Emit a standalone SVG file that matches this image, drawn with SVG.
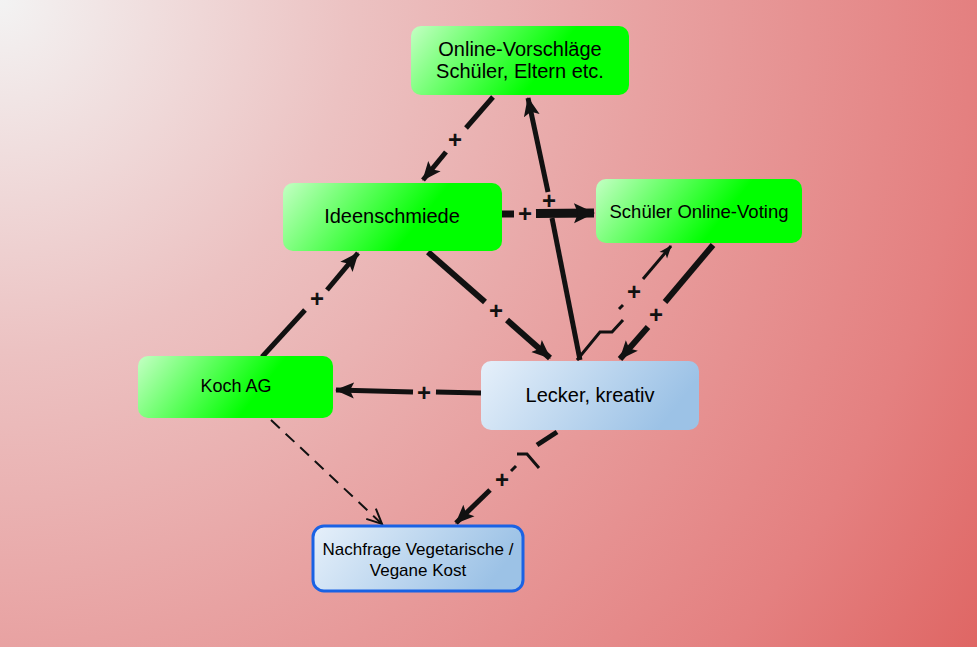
<svg xmlns="http://www.w3.org/2000/svg" width="977" height="647" viewBox="0 0 977 647">
<defs>
<radialGradient id="bg" gradientUnits="userSpaceOnUse" cx="0" cy="0" r="1172">
<stop offset="0" stop-color="#f3f3f3"/>
<stop offset="0.3" stop-color="#ecc2c2"/>
<stop offset="0.55" stop-color="#e8a2a2"/>
<stop offset="0.83" stop-color="#e48080"/>
<stop offset="1" stop-color="#df6664"/>
</radialGradient>
<linearGradient id="green" x1="0" y1="0" x2="1" y2="0.25">
<stop offset="0" stop-color="#c4ffc4"/>
<stop offset="0.72" stop-color="#00ff00"/>
<stop offset="1" stop-color="#00ff00"/>
</linearGradient>
<linearGradient id="blue" x1="0" y1="0" x2="1" y2="0.25">
<stop offset="0" stop-color="#e6f0fa"/>
<stop offset="1" stop-color="#9cc2e6"/>
</linearGradient>
<marker id="ah" markerUnits="userSpaceOnUse" markerWidth="22" markerHeight="18" refX="18" refY="8" orient="auto" viewBox="0 0 22 16">
<path d="M0,0 L19,8 L0,16 L4,8 z" fill="#111"/>
</marker>
<marker id="ahb" markerUnits="userSpaceOnUse" markerWidth="24" markerHeight="22" refX="20" refY="10" orient="auto" viewBox="0 0 24 20">
<path d="M0,0 L21,10 L0,20 L4,10 z" fill="#111"/>
</marker>
<marker id="ahs" markerUnits="userSpaceOnUse" markerWidth="14" markerHeight="12" refX="12" refY="5" orient="auto" viewBox="0 0 14 10">
<path d="M0,0 L13,5 L0,10 L3,5 z" fill="#111"/>
</marker>
<marker id="aho" markerUnits="userSpaceOnUse" markerWidth="18" markerHeight="16" refX="16" refY="8" orient="auto" viewBox="0 0 18 16">
<path d="M1,1 L16,8 L1,15" fill="none" stroke="#111" stroke-width="2"/>
</marker>
</defs>
<style>
.node text{font-family:"Liberation Sans",Arial,sans-serif;fill:#000;text-anchor:middle}
.g{fill:url(#green)}
.b{fill:url(#blue)}
.c line,.c polyline{stroke:#111;fill:none;stroke-linecap:butt}
.lbl{font-family:"Liberation Sans",Arial,sans-serif;font-size:24px;font-weight:bold;fill:#111;text-anchor:middle}
</style>
<rect width="977" height="647" fill="url(#bg)"/>
<g class="c" id="connectors">
<!-- Online -> Ideenschmiede -->
<line x1="493" y1="97" x2="466" y2="128" stroke-width="5"/>
<line x1="446" y1="152" x2="423" y2="180" stroke-width="5" marker-end="url(#ah)"/>
<text class="lbl" x="455" y="148">+</text>
<!-- Lecker -> Online -->
<line x1="580" y1="360" x2="552" y2="218" stroke-width="5"/>
<line x1="548" y1="192" x2="528" y2="98" stroke-width="5" marker-end="url(#ah)"/>
<text class="lbl" x="549" y="209">+</text>
<!-- Ideenschmiede -> Schüler -->
<line x1="502" y1="214" x2="514" y2="214" stroke-width="7"/>
<line x1="536" y1="213.5" x2="594" y2="213" stroke-width="9" marker-end="url(#ahb)"/>
<text class="lbl" x="525" y="222">+</text>
<!-- Ideenschmiede -> Lecker -->
<line x1="428" y1="252" x2="485" y2="302" stroke-width="6"/>
<line x1="507" y1="320" x2="550" y2="358" stroke-width="6" marker-end="url(#ah)"/>
<text class="lbl" x="496" y="319">+</text>
<!-- Schüler -> Lecker -->
<line x1="713" y1="245" x2="665" y2="302" stroke-width="6"/>
<line x1="648" y1="327" x2="620" y2="359" stroke-width="6" marker-end="url(#ah)"/>
<text class="lbl" x="656" y="323">+</text>
<!-- Lecker -> Schüler (delay) -->
<polyline points="577,360 600,332 612,332 623,320" stroke-width="3"/>
<line x1="619" y1="309" x2="623" y2="305" stroke-width="3"/>
<line x1="643" y1="279" x2="671" y2="246" stroke-width="3" marker-end="url(#ahs)"/>
<text class="lbl" x="634" y="300">+</text>
<!-- Lecker -> Koch AG -->
<line x1="481" y1="393" x2="436" y2="392" stroke-width="5"/>
<line x1="413" y1="392" x2="336" y2="390" stroke-width="5" marker-end="url(#ah)"/>
<text class="lbl" x="424" y="401">+</text>
<!-- Koch AG -> Ideenschmiede -->
<line x1="262" y1="357" x2="305" y2="310" stroke-width="5"/>
<line x1="327" y1="290" x2="358" y2="253" stroke-width="5" marker-end="url(#ah)"/>
<text class="lbl" x="317" y="307">+</text>
<!-- Koch AG -> Nachfrage (dashed) -->
<line x1="271" y1="420" x2="382" y2="524" stroke-width="2" stroke-dasharray="12,8" marker-end="url(#aho)"/>
<!-- Lecker -> Nachfrage (delay) -->
<line x1="557" y1="432" x2="537" y2="445" stroke-width="5"/>
<polyline points="517,454 527,454 539,468" stroke-width="3"/>
<line x1="511" y1="471" x2="516" y2="466" stroke-width="3"/>
<line x1="490" y1="490" x2="456" y2="523" stroke-width="5" marker-end="url(#ah)"/>
<text class="lbl" x="502" y="488">+</text>
</g>
<g class="node" id="online">
<rect class="g" x="411" y="26" width="218" height="69" rx="10"/>
<text x="520" y="56" font-size="20">Online-Vorschläge</text>
<text x="520" y="78" font-size="20">Schüler, Eltern etc.</text>
</g>
<g class="node" id="ideenschmiede">
<rect class="g" x="283" y="183" width="219" height="68" rx="10"/>
<text x="392" y="223" font-size="20">Ideenschmiede</text>
</g>
<g class="node" id="voting">
<rect class="g" x="596" y="179" width="206" height="64" rx="10"/>
<text x="699" y="218" font-size="18.5">Schüler Online-Voting</text>
</g>
<g class="node" id="koch">
<rect class="g" x="138" y="356" width="195" height="62" rx="10"/>
<text x="236" y="392" font-size="18">Koch AG</text>
</g>
<g class="node" id="lecker">
<rect class="b" x="481" y="361" width="218" height="69" rx="10"/>
<text x="590" y="402" font-size="20">Lecker, kreativ</text>
</g>
<g class="node" id="nachfrage">
<rect class="b" x="313" y="526" width="210" height="65" rx="11" stroke="#1a62e4" stroke-width="3"/>
<text x="418" y="555" font-size="17">Nachfrage Vegetarische /</text>
<text x="418" y="576" font-size="17">Vegane Kost</text>
</g>
</svg>
